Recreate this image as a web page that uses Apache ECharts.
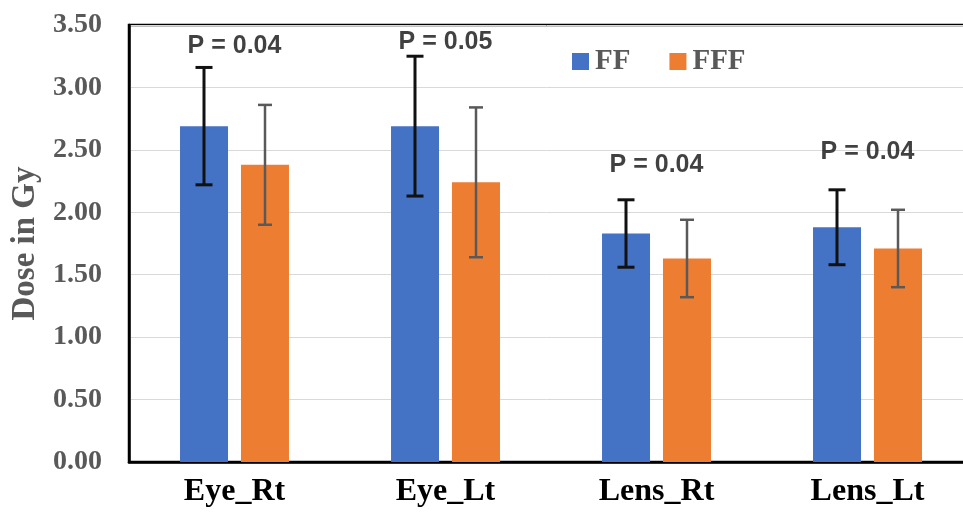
<!DOCTYPE html>
<html>
<head>
<meta charset="utf-8">
<script src="https://cdn.jsdelivr.net/npm/echarts@6/dist/echarts.min.js"></script>
<style>
  html, body { margin: 0; padding: 0; background: #fff; }
  #chart { width: 963px; height: 517px; }
</style>
</head>
<body>
<div id="chart"></div>
<script>
// data
const categories = ['Eye_Rt', 'Eye_Lt', 'Lens_Rt', 'Lens_Lt']
const ffMean = [2.69, 2.69, 1.83, 1.88]
const ffErr = [0.47, 0.56, 0.27, 0.30]
const fffMean = [2.38, 2.24, 1.63, 1.71]
const fffErr = [0.48, 0.60, 0.31, 0.31]
const pText = ['P = 0.04', 'P = 0.05', 'P = 0.04', 'P = 0.04']
const pY = [3.33, 3.36, 2.38, 2.48]
const yTicks = [0, 0.5, 1, 1.5, 2, 2.5, 3, 3.5]

const chart = echarts.init(document.getElementById('chart'))

// error bar drawn by a custom series, shifted onto its bar
function errorBar(means, errs, offset, color, lw, cap) {
  return {
    type: 'custom',
    z: 5,
    silent: true,
    data: means.map((m, i) => [i, m - errs[i], m + errs[i]]),
    renderItem(params, api) {
      const lo = api.coord([api.value(0), api.value(1)])
      const hi = api.coord([api.value(0), api.value(2)])
      const x = lo[0] + offset
      const style = { stroke: color, lineWidth: lw }
      return {
        type: 'group',
        children: [
          { type: 'line', shape: { x1: x, y1: hi[1], x2: x, y2: lo[1] }, style },
          { type: 'line', shape: { x1: x - cap / 2, y1: hi[1], x2: x + cap / 2, y2: hi[1] }, style },
          { type: 'line', shape: { x1: x - cap / 2, y1: lo[1], x2: x + cap / 2, y2: lo[1] }, style },
        ],
      }
    },
  }
}

const option = {
  animation: false,
  grid: {
    left: 129,
    right: -10,
    top: 25,
    bottom: 55,
    outerBoundsMode: 'none',
    show: true,
    borderColor: '#000',
    borderWidth: 2.5,
  },
  legend: {
    data: ['FF', 'FFF'],
    left: 567,
    top: 42,
    itemWidth: 17,
    itemHeight: 17,
    itemGap: 39,
    icon: 'rect',
    textStyle: {
      fontFamily: 'Liberation Serif',
      fontWeight: 'bold',
      fontSize: 29,
      color: '#595959',
      padding: [0, 0, 0, 1],
    },
  },
  xAxis: {
    type: 'category',
    data: categories,
    axisLine: { show: true, lineStyle: { color: '#000', width: 2.5 } },
    axisTick: { show: false },
    axisLabel: {
      margin: 14,
      fontFamily: 'Liberation Serif',
      fontWeight: 'bold',
      fontSize: 32,
      color: '#000',
    },
  },
  yAxis: {
    type: 'value',
    min: yTicks[0],
    max: yTicks[yTicks.length - 1],
    interval: 0.5,
    name: 'Dose in Gy',
    nameLocation: 'middle',
    nameGap: 84,
    nameTextStyle: {
      fontFamily: 'Liberation Serif',
      fontWeight: 'bold',
      fontSize: 33,
      color: '#595959',
    },
    axisLine: { show: true, lineStyle: { color: '#000', width: 2.5 } },
    axisTick: { show: false },
    splitLine: { lineStyle: { color: '#d9d9d9', width: 1 } },
    axisLabel: {
      margin: 27,
      formatter: v => v.toFixed(2),
      fontFamily: 'Liberation Serif',
      fontWeight: 'bold',
      fontSize: 28,
      color: '#595959',
    },
  },
  series: [
    {
      name: 'FF',
      type: 'bar',
      data: ffMean,
      barWidth: 48,
      barGap: '27%',
      itemStyle: { color: '#4472C4' },
    },
    {
      name: 'FFF',
      type: 'bar',
      data: fffMean,
      barWidth: 48,
      itemStyle: { color: '#ED7D31' },
    },
    errorBar(ffMean, ffErr, -30.5, '#111', 3, 17),
    errorBar(fffMean, fffErr, 30.5, '#595959', 2.5, 14),
    {
      type: 'scatter',
      symbolSize: 0,
      silent: true,
      data: pY.map((y, i) => [i, y]),
      label: {
        show: true,
        position: 'inside',
        formatter: p => pText[p.dataIndex],
        fontFamily: 'Liberation Sans',
        fontWeight: 'bold',
        fontSize: 25,
        color: '#111',
      },
    },
  ],
}

chart.setOption(option)
</script>
</body>
</html>
